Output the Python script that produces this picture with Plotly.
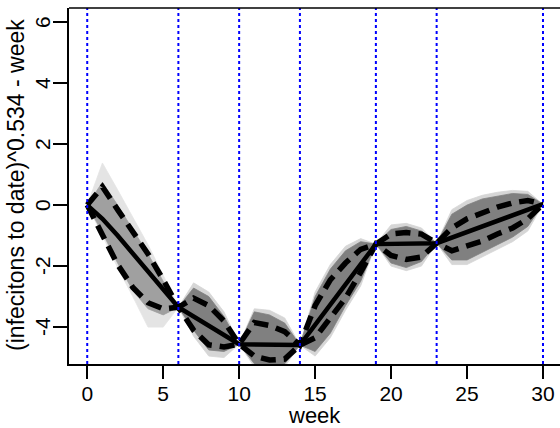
import plotly.graph_objects as go

# ---------------- data ----------------
weeks = list(range(0, 31))
knots = [0, 6, 10, 14, 19, 23, 30]

# median trajectory (solid)
median_x = [0, 1, 2, 3, 4, 5, 6, 10, 14, 19, 23, 30]
median_y = [0, -0.45, -1.0, -1.6, -2.2, -2.8, -3.35, -4.56, -4.59, -1.28, -1.25, 0.03]

# upper / lower quantile (dashed)
q_hi = [0, 0.6, -0.15, -0.9, -1.6, -2.45, -3.35, -3.05, -3.3, -3.8, -4.56,
        -3.85, -3.95, -4.15, -4.59, -3.3, -2.45, -1.9, -1.45, -1.28,
        -0.95, -0.9, -0.95, -1.25, -0.75, -0.45, -0.25, -0.07, 0.07, 0.15, 0.03]
q_lo = [0, -0.95, -1.95, -2.7, -3.2, -3.4, -3.35, -4.1, -4.58, -4.65, -4.56,
        -4.95, -5.08, -5.05, -4.59, -4.35, -3.7, -3.05, -2.2, -1.28,
        -1.65, -1.78, -1.7, -1.25, -1.5, -1.35, -1.18, -0.95, -0.75, -0.45, 0.03]

# envelope of the bulk of simulated trajectories (dark grey)
band_hi = [0, 0.75, 0.0, -0.8, -1.6, -2.5, -3.35, -2.72, -3.0, -3.65, -4.56,
           -3.5, -3.6, -3.87, -4.59, -3.0, -2.1, -1.5, -1.2, -1.28,
           -0.8, -0.7, -0.85, -1.25, -0.3, 0.0, 0.2, 0.3, 0.38, 0.35, 0.03]
band_lo = [0, -0.9, -1.9, -2.8, -3.4, -3.6, -3.35, -4.1, -4.75, -4.8, -4.56,
           -5.2, -5.3, -5.2, -4.59, -4.8, -4.2, -3.3, -2.5, -1.28,
           -1.9, -2.05, -1.85, -1.25, -1.8, -1.8, -1.55, -1.3, -1.05, -0.7, 0.03]

# envelope of the outlying simulated trajectories (light grey)
outer_hi = [0, 1.38, 0.5, -0.4, -1.3, -2.3, -3.35, -2.55, -2.85, -3.5, -4.56,
            -3.4, -3.45, -3.7, -4.59, -2.85, -1.95, -1.35, -1.1, -1.28,
            -0.65, -0.6, -0.75, -1.25, -0.15, 0.15, 0.32, 0.42, 0.48, 0.45, 0.03]
outer_lo = [0, -1.0, -2.05, -3.0, -4.0, -4.0, -3.35, -4.3, -4.95, -5.0, -4.56,
            -5.3, -5.3, -5.3, -4.59, -4.95, -4.35, -3.45, -2.65, -1.28,
            -2.0, -2.15, -2.0, -1.25, -1.95, -1.95, -1.7, -1.45, -1.2, -0.85, 0.03]

x_ticks = [0, 5, 10, 15, 20, 25, 30]
y_ticks = [-4, -2, 0, 2, 4, 6]

FONT = "Liberation Sans, Arial, Helvetica, sans-serif"

fig = go.Figure()


def band(xs, hi, lo, color):
    fig.add_trace(go.Scatter(
        x=list(xs) + list(xs)[::-1], y=list(hi) + list(lo)[::-1],
        fill="toself", fillcolor=color, mode="lines",
        line=dict(width=0.8, color=color), hoverinfo="skip", showlegend=False))


# first segment (sparser trajectories) and the rest
band(weeks[:7], outer_hi[:7], outer_lo[:7], "#e4e4e4")
band(weeks[6:], outer_hi[6:], outer_lo[6:], "#d6d6d6")
band(weeks[:7], band_hi[:7], band_lo[:7], "#a0a0a0")
band(weeks[6:], band_hi[6:], band_lo[6:], "#808080")

# quantiles (dashed)
for q in (q_hi, q_lo):
    fig.add_trace(go.Scatter(x=weeks, y=q, mode="lines",
                             line=dict(color="black", width=5.5, dash="15px,8px"),
                             hoverinfo="skip", showlegend=False))
# median (solid)
fig.add_trace(go.Scatter(x=median_x, y=median_y, mode="lines",
                         line=dict(color="black", width=4.5),
                         hoverinfo="skip", showlegend=False))

shapes = []
for k in knots:
    shapes.append(dict(type="line", xref="x", yref="paper", x0=k, x1=k, y0=0, y1=1,
                       line=dict(color="blue", width=2, dash="3px,3px"), layer="above"))
# top border of the box
shapes.append(dict(type="line", xref="paper", yref="paper", x0=0, x1=1, y0=1, y1=1,
                   line=dict(color="black", width=1.5), layer="above"))

# y tick labels, rotated like R's default (parallel to the axis)
annotations = [
    dict(text=str(v), xref="paper", yref="y", x=0, xshift=-27, y=v,
         xanchor="center", yanchor="middle", textangle=-90, showarrow=False,
         font=dict(family=FONT, size=21))
    for v in y_ticks
]
annotations += [
    dict(text="week", xref="paper", yref="paper", x=0.501, y=0, yshift=-51,
         xanchor="center", yanchor="middle", showarrow=False,
         font=dict(family=FONT, size=22)),
    dict(text="(infecitons to date)^0.534 - week", xref="paper", yref="paper",
         x=0, xshift=-53, y=0.503, xanchor="center", yanchor="middle",
         textangle=-90, showarrow=False, font=dict(family=FONT, size=23)),
]

fig.update_layout(
    width=560, height=428,
    margin=dict(l=69, r=0, t=8, b=64),
    paper_bgcolor="white", plot_bgcolor="white",
    font=dict(family=FONT, size=21, color="black"),
    shapes=shapes,
    showlegend=False,
    xaxis=dict(range=[-1.2, 31.12], tickvals=x_ticks, ticktext=[str(v) for v in x_ticks],
               ticks="outside", ticklen=13, tickwidth=1.5, tickcolor="black",
               showline=True, linecolor="black", linewidth=1.5, mirror=False,
               showgrid=False, zeroline=False, ticklabelstandoff=-3,
               tickfont=dict(family=FONT, size=21)),
    yaxis=dict(range=[-5.21, 6.46], tickvals=y_ticks, showticklabels=False,
               ticks="outside", ticklen=14, tickwidth=1.5, tickcolor="black",
               showline=True, linecolor="black", linewidth=1.5, mirror=False,
               showgrid=False, zeroline=False),
    annotations=annotations,
)

fig.write_html("out.html")
